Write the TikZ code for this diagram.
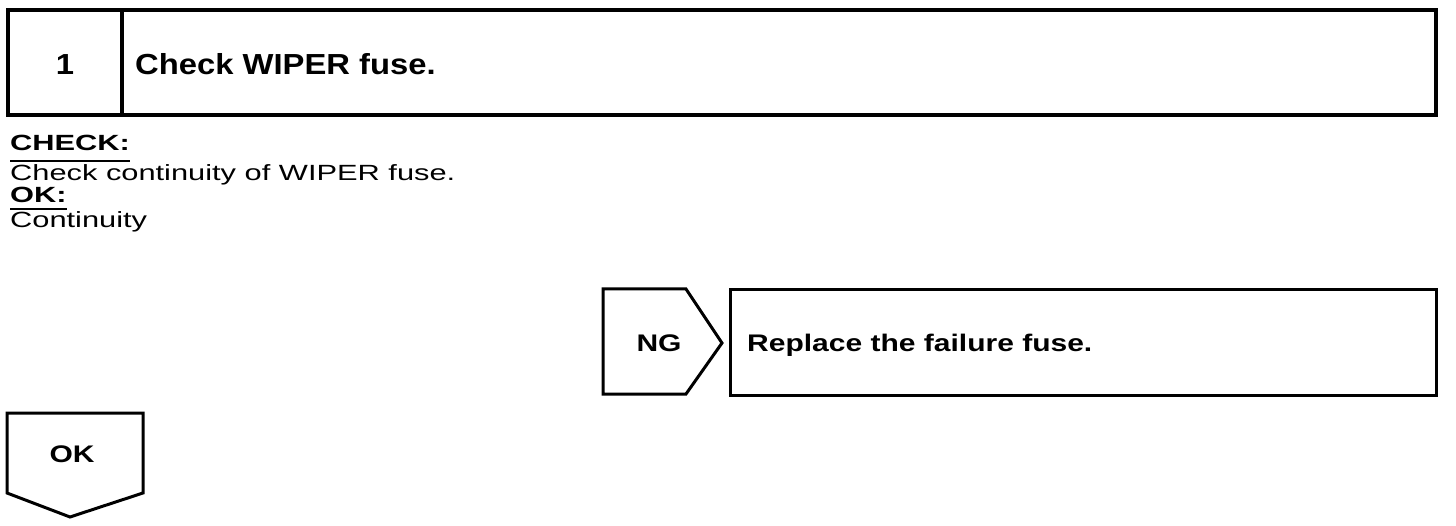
\documentclass[tikz,border=0pt]{standalone}
\usepackage{fontspec}
\setmainfont{Liberation Sans}
\newfontfamily\bodyfont[FakeStretch=1.4]{Liberation Sans}
\newfontfamily\headfont[FakeStretch=1.13]{Liberation Sans}
\newfontfamily\boxfont[FakeStretch=1.25]{Liberation Sans}
\begin{document}
\begin{tikzpicture}[x=1pt,y=-1pt,
  thickline/.style={line width=4pt},
  boxline/.style={line width=3pt, line join=miter},
  headtxt/.style={inner sep=0pt, font=\headfont\bfseries\fontsize{29}{33}\selectfont},
  bodytxt/.style={inner sep=0pt, anchor=base west, font=\bodyfont\fontsize{22}{26}\selectfont},
  labtxt/.style={inner sep=0pt, anchor=base west, font=\bodyfont\bfseries\fontsize{22}{26}\selectfont},
  boxtxt/.style={inner sep=0pt, font=\boxfont\bfseries\fontsize{24}{28}\selectfont},
  uline/.style={line width=2.5pt}]
\fill[white] (0,0) rectangle (1456,526);
\useasboundingbox (0,0) rectangle (1456,526);
% title box
\draw[thickline] (8,10) rectangle (1436,115);
\draw[thickline] (122,10) -- (122,115);
\node[headtxt, anchor=base] (num) at (65,75) {1};
\node[headtxt, anchor=base west] (title) at (135,75) {Check WIPER fuse.};
% check text
\node[labtxt] (chk) at (10,151) {CHECK:};
\draw[uline] ([yshift=-10pt]chk.base west) -- ([yshift=-10pt]chk.base east);
\node[bodytxt] (chktxt) at (10,181) {Check continuity of WIPER fuse.};
\node[labtxt] (ok) at (10,203) {OK:};
\draw[uline] ([yshift=-6pt]ok.base west) -- ([yshift=-6pt]ok.base east);
\node[bodytxt] (oktxt) at (10,228) {Continuity};
% NG branch
\draw[boxline] (603,289) -- (686,289) -- (722,343) -- (686,394) -- (603,394) -- cycle;
\node[boxtxt, anchor=base] (ng) at (659,352) {NG};
\draw[boxline] (730,290) rectangle (1436,395);
\node[boxtxt, anchor=base west] (repl) at (747,352) {Replace the failure fuse.};
% OK branch
\draw[boxline] (7,413) -- (143,413) -- (143,493) -- (70,517) -- (7,493) -- cycle;
\node[boxtxt, anchor=base] (okb) at (72,462) {OK};
\end{tikzpicture}
\end{document}
